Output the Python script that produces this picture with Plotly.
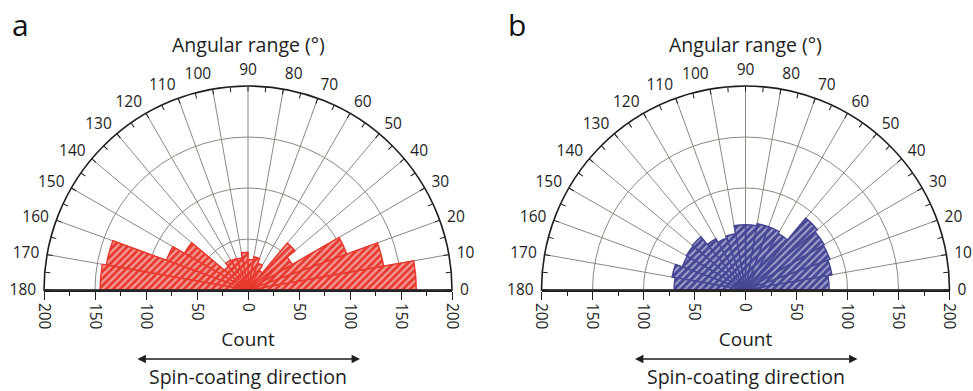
import plotly.graph_objects as go

# ---------------- data ----------------
bin_centers = [5, 15, 25, 35, 45, 55, 65, 75, 85, 95, 105, 115, 125, 135, 145, 155, 165, 175]
count_a = [165, 135, 103, 50, 60, 22, 28, 33, 30, 37, 32, 33, 34, 30, 72, 85, 141, 145]
count_b = [82, 86, 88, 89, 92, 64, 66, 66, 64, 64, 56, 54, 58, 68, 67, 66, 73, 70]
angle_ticks = list(range(0, 181, 10))
angle_minor = list(range(0, 181, 5))
count_tickvals = [-200, -150, -100, -50, 0, 50, 100, 150, 200]
count_ticktext = ["200", "150", "100", "50", "0", "50", "100", "150", "200"]
panel_labels = ["a", "b"]
colors = ["#e8392f", "#474796"]
hatch_solidity = [0.45, 0.38]

# ---------------- geometry ----------------
W, H = 973, 391
R = 204
CY = 290
CX = [248, 745.5]
FONT = "Open Sans"
INK = "#1e1e1e"
GRID = "#8f8781"

fig = go.Figure()
layout = dict(
    width=W, height=H, margin=dict(l=0, r=0, t=0, b=0),
    paper_bgcolor="white", plot_bgcolor="rgba(0,0,0,0)",
    showlegend=False, font=dict(family=FONT, color=INK),
    annotations=[],
)

for i, (cx, counts, col, lab, sol) in enumerate(zip(CX, [count_a, count_b], colors,
                                                     panel_labels, hatch_solidity)):
    dx = [(cx - R) / W, (cx + R) / W]
    dy = [(H - CY) / H, (H - CY + R) / H]
    pm = "polar" if i == 0 else f"polar{2 * i + 1}"
    po = f"polar{2 * i + 2}"
    xa = "xaxis" if i == 0 else f"xaxis{i + 1}"
    ya = "yaxis" if i == 0 else f"yaxis{i + 1}"
    xr = "x" if i == 0 else f"x{i + 1}"
    yr = "y" if i == 0 else f"y{i + 1}"

    fig.add_trace(go.Barpolar(
        r=counts, theta=bin_centers, width=[10] * len(bin_centers),
        subplot=pm,
        marker=dict(color=col, line=dict(color=col, width=1.5),
                    pattern=dict(shape="/", fillmode="overlay", fgcolor="white",
                                 size=5, solidity=sol)),
        hoverinfo="skip",
    ))
    fig.add_trace(go.Scatterpolar(r=[0], theta=[0], subplot=po, mode="markers",
                                  marker=dict(size=1, opacity=0), hoverinfo="skip"))
    fig.add_trace(go.Scatter(x=[0], y=[0], xaxis=xr, yaxis=yr, mode="markers",
                             marker=dict(size=1, opacity=0), hoverinfo="skip"))

    layout[pm] = dict(
        domain=dict(x=dx, y=dy), sector=[0, 180], bgcolor="rgba(0,0,0,0)", bargap=0,
        angularaxis=dict(rotation=0, direction="counterclockwise", tickmode="array",
                         tickvals=angle_ticks, ticktext=[str(v) for v in angle_ticks],
                         ticks="outside", ticklen=4, tickcolor="rgba(0,0,0,0)",
                         showline=True, linecolor=INK, linewidth=1.6,
                         showgrid=True, gridcolor=GRID, gridwidth=1.3,
                         tickfont=dict(size=15.5, color=INK), layer="above traces"),
        radialaxis=dict(range=[0, 200], tickmode="array", tickvals=[50, 100, 150, 200],
                        showticklabels=False, ticks="", showline=False, showgrid=True,
                        gridcolor=GRID, gridwidth=1.3, layer="above traces"),
    )
    layout[po] = dict(
        domain=dict(x=dx, y=dy), sector=[0, 180], bgcolor="rgba(0,0,0,0)",
        angularaxis=dict(rotation=0, direction="counterclockwise", tickmode="array",
                         tickvals=angle_minor, ticks="inside", ticklen=5, tickwidth=1.2,
                         tickcolor=INK, showticklabels=False, showgrid=False, showline=False),
        radialaxis=dict(range=[0, 200], visible=False),
    )
    layout[xa] = dict(
        domain=dx, range=[-200, 200], anchor=yr, tickmode="array",
        tickvals=count_tickvals, ticktext=count_ticktext, tickangle=90,
        ticks="outside", ticklen=8, tickwidth=1.2, tickcolor=INK,
        showline=True, linecolor=INK, linewidth=1.6, showgrid=False, zeroline=False,
        tickfont=dict(size=15.5, color=INK),
        minor=dict(tickmode="linear", tick0=0, dtick=25, ticks="outside", ticklen=4,
                   tickwidth=1.2, tickcolor=INK, showgrid=False),
        title=dict(text="Count", standoff=4, font=dict(size=19, color=INK)),
        fixedrange=True, automargin=False,
    )
    layout[ya] = dict(domain=dy, range=[0, 1], visible=False, fixedrange=True)

    layout["annotations"] += [
        dict(text="Angular range (°)", x=cx / W, y=(H - 44) / H, xref="paper", yref="paper",
             showarrow=False, font=dict(size=19.5, color=INK), xanchor="center", yanchor="middle"),
        dict(text="Spin-coating direction", x=cx / W, y=(H - 376) / H, xref="paper", yref="paper",
             showarrow=False, font=dict(size=19.5, color=INK), xanchor="center", yanchor="middle"),
        dict(text="", x=(cx + 112) / W, y=(H - 359) / H, xref="paper", yref="paper",
             showarrow=True, ax=-224, ay=0, arrowside="end+start", arrowhead=2,
             arrowsize=1.2, arrowwidth=1.4, arrowcolor=INK),
        dict(text=lab, x=(10 if i == 0 else 506) / W, y=(H - 25) / H, xref="paper", yref="paper",
             showarrow=False, font=dict(size=30, color="#111"), xanchor="left", yanchor="middle"),
    ]

fig.update_layout(**layout)
fig.write_html("out.html", config=dict(displayModeBar=False),
               post_script="document.body.style.margin='0px';")
